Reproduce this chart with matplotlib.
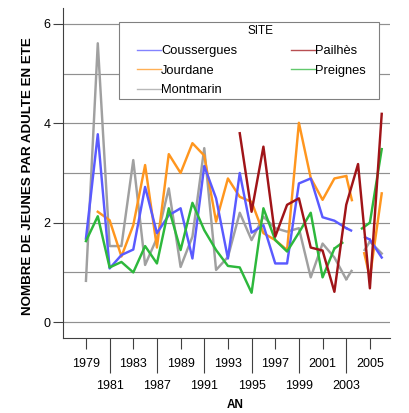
import numpy as np
import matplotlib
matplotlib.use('Agg')
import matplotlib.pyplot as plt
from matplotlib.lines import Line2D
from matplotlib.patches import Rectangle

plt.rcParams['font.family'] = ['Liberation Sans', 'DejaVu Sans']

nan = np.nan
years = [1979, 1980, 1981, 1982, 1983, 1985, 1987, 1988, 1989, 1990, 1991, 1992, 1993,
         1994, 1995, 1996, 1997, 1998, 1999, 2000, 2001, 2002, 2003, 2004, 2005, 2006]

coussergues = [1.68, 3.78, 1.08, 1.35, 1.46, 2.72, 1.79, 2.15, 2.29, 1.28, 3.14, 2.49, 1.28,
               3.00, 1.80, 1.95, 1.18, 1.18, 2.79, 2.89, 2.11, 2.04, 1.89, nan, 1.66, 1.30]
jourdane = [nan, 2.22, 2.05, 1.32, 1.95, 3.16, 1.50, 3.38, 3.00, 3.60, 3.35, 2.02, 2.89,
            2.52, 2.42, 1.79, 1.65, 1.45, 4.01, 2.90, 2.46, 2.89, 2.94, nan, 0.90, 2.59]
montmarin = [0.83, 5.61, 1.53, 1.53, 3.26, 1.15, 1.69, 2.69, 1.11, 1.72, 3.50, 1.05, 1.31,
             2.20, 1.65, 2.12, 1.89, 1.82, 1.89, 0.90, 1.58, 1.30, 0.86, nan, 1.62, 1.38]
pailhes = [nan, nan, nan, nan, nan, nan, nan, nan, nan, nan, nan, nan, nan,
           3.80, 2.22, 3.53, 1.72, 2.36, 2.49, 1.50, 1.44, 0.61, 2.36, 3.18, 0.68, 4.19]
preignes = [1.63, 2.13, 1.10, 1.21, 1.00, 1.53, 1.18, 2.29, 1.45, 2.40, 1.85, 1.45, 1.13,
            1.10, 0.59, 2.29, 1.65, 1.42, 1.80, 2.20, 0.90, 1.48, nan, nan, 2.00, 3.48]

sites = ['Coussergues', 'Jourdane', 'Montmarin', 'Pailhès', 'Preignes']
series = [coussergues, jourdane, montmarin, pailhes, preignes]
colors = ['#5a5aff', '#ff961e', '#a0a0a0', '#a01418', '#2db83c']
zorders = [3.4, 3.2, 3.0, 3.6, 3.5]

W, H = 410, 413
fig = plt.figure(figsize=(W / 100, H / 100), dpi=100)
ax = fig.add_axes([63 / W, 1 - 338 / H, (390 - 63) / W, (338 - 8) / H])

x = np.arange(len(years))


def draw(ax, x, y, color, z, frac=0.25):
    y = np.asarray(y, float)
    ax.plot(x, y, color=color, lw=1.75, zorder=z, solid_joinstyle='round')
    idx = np.where(~np.isnan(y))[0]
    for a, b in zip(idx[:-1], idx[1:]):
        if b - a > 1:
            xa, ya, xb, yb = x[a], y[a], x[b], y[b]
            ax.plot([xa, xa + frac * (xb - xa)], [ya, ya + frac * (yb - ya)],
                    color=color, lw=1.75, zorder=z, solid_capstyle='butt')
            ax.plot([xb - frac * (xb - xa), xb], [yb - frac * (yb - ya), yb],
                    color=color, lw=1.75, zorder=z, solid_capstyle='butt')


for s, c, z in zip(series, colors, zorders):
    draw(ax, x, s, c, z)

ax.set_ylim(-0.32, 6.32)
ax.set_xlim(-1.94, 25.7)
ax.set_yticks([0, 2, 4, 6])
ax.set_yticks([1, 3, 5], minor=True)
ax.yaxis.grid(True, which='both', color='#909090', lw=0.85)
ax.set_axisbelow(True)
ax.tick_params(axis='y', which='minor', length=0)
ax.tick_params(axis='y', which='major', length=7, width=0.8, pad=2, labelsize=9,
               color='#404040')

major_idx = [i for i in range(len(years)) if i % 4 == 0]
minor_idx = [i for i in range(len(years)) if i % 4 == 2]
ax.set_xticks(major_idx)
ax.set_xticklabels([str(years[i]) for i in major_idx])
ax.set_xticks(minor_idx, minor=True)
ax.set_xticklabels([str(years[i]) for i in minor_idx], minor=True)
ax.tick_params(axis='x', which='major', length=8, width=0.8, pad=6.5, labelsize=9,
               color='#404040')
ax.tick_params(axis='x', which='minor', length=25, width=0.8, pad=5.5, labelsize=9,
               color='#404040')

for sp in ['top', 'right']:
    ax.spines[sp].set_visible(False)
for sp in ['left', 'bottom']:
    ax.spines[sp].set_color('#404040')
    ax.spines[sp].set_linewidth(0.8)

ax.set_ylabel('NOMBRE DE JEUNES PAR ADULTE EN ETE', fontsize=9.6, fontweight='bold')
ax.yaxis.set_label_coords(-0.088, 0.49)
ax.set_xlabel('AN', fontsize=8.5, fontweight='bold')
ax.xaxis.set_label_coords(0.527, -0.186)

# legend frame and title
frame = Rectangle((119 / W, 1 - 99 / H), 260 / W, 77 / H, transform=fig.transFigure,
                  facecolor='white', edgecolor='#808080', lw=0.8, zorder=8, clip_on=False)
ax.add_patch(frame)
ax.text(261 / W, 1 - 31 / H, 'SITE', transform=fig.transFigure, ha='center', va='center',
        fontsize=8.5, zorder=11)

handles = [Line2D([], [], color=c, lw=1.0, alpha=0.75) for c in colors]
leg = ax.legend(handles, sites, loc='upper left', bbox_to_anchor=(137 / W, 1 - 45 / H),
                bbox_transform=fig.transFigure, ncol=2, frameon=False, fontsize=9.3,
                handlelength=1.86, handletextpad=0.0, columnspacing=4.2,
                labelspacing=0.58, borderpad=0, borderaxespad=0)
leg.set_zorder(12)

fig.savefig('out.png', dpi=100)
